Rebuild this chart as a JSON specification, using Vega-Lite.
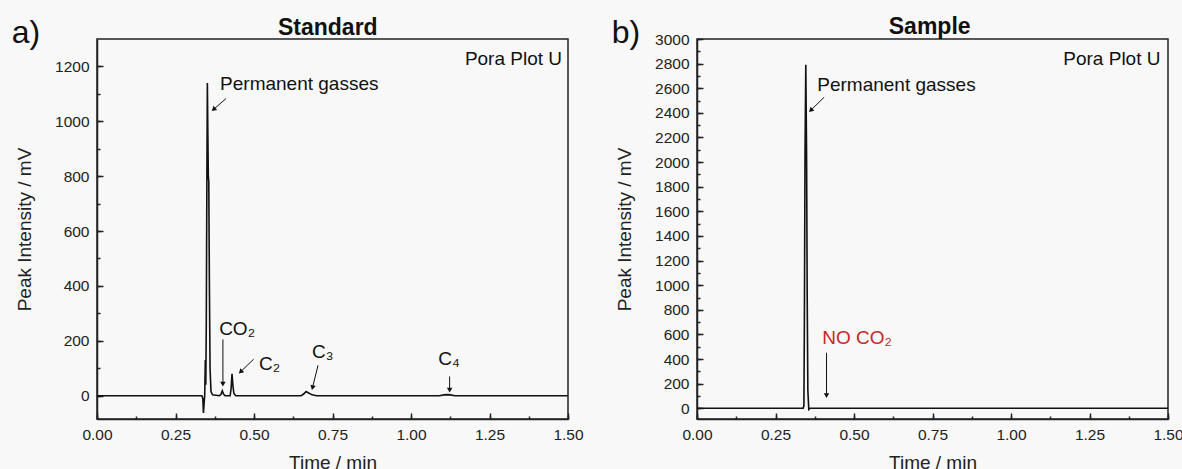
{
  "$schema": "https://vega.github.io/schema/vega-lite/v6.json",
  "background": "#f8f8f8",
  "padding": {"left": 11, "top": 15, "right": 0, "bottom": 0},
  "bounds": "flush",
  "spacing": 129,
  "datasets": {
    "std": [
      {"t": 0, "v": 0}, {"t": 0.334, "v": 0}, {"t": 0.337, "v": -10}, {"t": 0.339, "v": -63}, {"t": 0.341, "v": -30},
      {"t": 0.343, "v": 0}, {"t": 0.345, "v": 130}, {"t": 0.3465, "v": 40}, {"t": 0.348, "v": 250}, {"t": 0.35, "v": 800},
      {"t": 0.3515, "v": 1140}, {"t": 0.353, "v": 960}, {"t": 0.3545, "v": 800}, {"t": 0.356, "v": 780}, {"t": 0.358, "v": 400},
      {"t": 0.36, "v": 100}, {"t": 0.363, "v": 15}, {"t": 0.368, "v": 3}, {"t": 0.39, "v": 0}, {"t": 0.395, "v": 5},
      {"t": 0.399, "v": 18}, {"t": 0.403, "v": 6}, {"t": 0.408, "v": 0}, {"t": 0.424, "v": 0}, {"t": 0.427, "v": 25},
      {"t": 0.43, "v": 80}, {"t": 0.433, "v": 35}, {"t": 0.436, "v": 8}, {"t": 0.442, "v": 0}, {"t": 0.65, "v": 0},
      {"t": 0.658, "v": 6}, {"t": 0.666, "v": 15}, {"t": 0.674, "v": 10}, {"t": 0.685, "v": 3}, {"t": 0.7, "v": 0},
      {"t": 1.09, "v": 0}, {"t": 1.105, "v": 3}, {"t": 1.115, "v": 4}, {"t": 1.125, "v": 3}, {"t": 1.14, "v": 0}, {"t": 1.5, "v": 0}
    ],
    "smp": [
      {"t": 0, "v": 0}, {"t": 0.338, "v": 0}, {"t": 0.3405, "v": 20}, {"t": 0.342, "v": 700}, {"t": 0.344, "v": 2050},
      {"t": 0.3465, "v": 2790}, {"t": 0.349, "v": 2060}, {"t": 0.351, "v": 900}, {"t": 0.353, "v": 150}, {"t": 0.356, "v": -10},
      {"t": 0.36, "v": 0}, {"t": 1.5, "v": 0}
    ],
    "arrowsA": [
      {"t1": 0.411, "v1": 1083, "t2": 0.373, "v2": 1045, "heading": 229},
      {"t1": 0.401, "v1": 205, "t2": 0.401, "v2": 45, "heading": 180},
      {"t1": 0.499, "v1": 133, "t2": 0.459, "v2": 89, "heading": 226},
      {"t1": 0.704, "v1": 111, "t2": 0.687, "v2": 32, "heading": 195},
      {"t1": 1.123, "v1": 70, "t2": 1.123, "v2": 23, "heading": 180}
    ],
    "arrowsB": [
      {"t1": 0.405, "v1": 2527, "t2": 0.364, "v2": 2425, "heading": 226},
      {"t1": 0.4125, "v1": 451, "t2": 0.4125, "v2": 110, "heading": 180}
    ],
    "notesA": [
      {"label": "Permanent gasses", "t": 0.392, "v": 1113},
      {"label": "CO₂", "t": 0.389, "v": 222},
      {"label": "C₂", "t": 0.516, "v": 95},
      {"label": "C₃", "t": 0.685, "v": 137},
      {"label": "C₄", "t": 1.087, "v": 113}
    ]
  },
  "config": {
    "font": "Liberation Sans",
    "view": {"stroke": "#222", "strokeWidth": 1.5},
    "axis": {
      "labelFont": "Liberation Sans", "labelFontSize": 15.5, "labelColor": "#222",
      "titleFont": "Liberation Sans", "titleFontSize": 19, "titleFontWeight": "normal", "titleColor": "#222",
      "domainColor": "#222", "domainWidth": 1.5, "grid": false
    },
    "text": {"font": "Liberation Sans", "color": "#111"}
  },
  "hconcat": [
    {
      "width": 471, "height": 380,
      "resolve": {"axis": {"x": "independent", "y": "independent"}},
      "layer": [
        {
          "data": {"name": "std"},
          "mark": {"type": "line", "color": "#111", "strokeWidth": 1.6},
          "encoding": {
            "x": {"field": "t", "type": "quantitative", "scale": {"domain": [0, 1.5], "nice": false},
              "axis": {"values": [0, 0.125, 0.25, 0.375, 0.5, 0.625, 0.75, 0.875, 1, 1.125, 1.25, 1.375, 1.5], "format": ".2f", "labelExpr": "datum.value % 0.25 == 0 ? datum.label : ''", "title": "Time / min", "ticks": true, "tickSize": -3, "tickWidth": 1.5, "tickColor": "#222", "labelPadding": 11, "labelFlush": false, "labelOverlap": false, "titlePadding": 11}},
            "y": {"field": "v", "type": "quantitative", "scale": {"domain": [-85, 1300], "nice": false, "zero": false},
              "axis": {"values": [0, 100, 200, 300, 400, 500, 600, 700, 800, 900, 1000, 1100, 1200], "format": "d", "labelExpr": "datum.value % 200 == 0 ? datum.label : ''", "title": "Peak Intensity / mV", "ticks": true, "tickSize": -3, "tickWidth": 1.5, "tickColor": "#222", "labelPadding": 11, "labelFlush": false, "labelOverlap": false, "titlePadding": 20}}
          }
        },
        {
          "data": {"name": "arrowsA"},
          "mark": {"type": "rule", "color": "#111", "strokeWidth": 1},
          "encoding": {
            "x": {"field": "t1", "type": "quantitative", "axis": {"values": [0, 0.25, 0.5, 0.75, 1, 1.25, 1.5], "orient": "top", "offset": -380, "ticks": true, "tickSize": 6, "tickWidth": 1.5, "tickColor": "#222", "labels": false, "domain": false, "title": null}},
            "y": {"field": "v1", "type": "quantitative", "axis": {"values": [0, 200, 400, 600, 800, 1000, 1200], "orient": "right", "offset": -471, "ticks": true, "tickSize": 6, "tickWidth": 1.5, "tickColor": "#222", "labels": false, "domain": false, "title": null}},
            "x2": {"field": "t2"},
            "y2": {"field": "v2"}
          }
        },
        {
          "data": {"name": "arrowsA"},
          "mark": {"type": "point", "shape": "triangle", "filled": true, "color": "#111", "size": 30, "opacity": 1},
          "encoding": {
            "x": {"field": "t2", "type": "quantitative", "axis": null},
            "y": {"field": "v2", "type": "quantitative", "axis": null},
            "angle": {"field": "heading", "type": "quantitative", "scale": null}
          }
        },
        {
          "data": {"name": "notesA"},
          "mark": {"type": "text", "align": "left", "baseline": "alphabetic", "fontSize": 19},
          "encoding": {
            "x": {"field": "t", "type": "quantitative", "axis": null},
            "y": {"field": "v", "type": "quantitative", "axis": null},
            "text": {"field": "label"}
          }
        },
        {
          "data": {"values": [{"label": "Pora Plot U", "t": 1.481, "v": 1206}]},
          "mark": {"type": "text", "align": "right", "baseline": "alphabetic", "fontSize": 19},
          "encoding": {
            "x": {"field": "t", "type": "quantitative", "axis": null},
            "y": {"field": "v", "type": "quantitative", "axis": null},
            "text": {"field": "label"}
          }
        },
        {
          "data": {"values": [{"label": "Standard", "t": 0.735, "v": 1316}]},
          "mark": {"type": "text", "align": "center", "baseline": "alphabetic", "fontSize": 23, "fontWeight": "bold"},
          "encoding": {
            "x": {"field": "t", "type": "quantitative", "axis": null},
            "y": {"field": "v", "type": "quantitative", "axis": null},
            "text": {"field": "label"}
          }
        },
        {
          "data": {"values": [{"label": "a)", "t": -0.226, "v": 1284}]},
          "mark": {"type": "text", "align": "center", "baseline": "alphabetic", "fontSize": 32},
          "encoding": {
            "x": {"field": "t", "type": "quantitative", "axis": null},
            "y": {"field": "v", "type": "quantitative", "axis": null},
            "text": {"field": "label"}
          }
        }
      ]
    },
    {
      "width": 471, "height": 380,
      "resolve": {"axis": {"x": "independent", "y": "independent"}},
      "layer": [
        {
          "data": {"name": "smp"},
          "mark": {"type": "line", "color": "#111", "strokeWidth": 1.6},
          "encoding": {
            "x": {"field": "t", "type": "quantitative", "scale": {"domain": [0, 1.5], "nice": false},
              "axis": {"values": [0, 0.125, 0.25, 0.375, 0.5, 0.625, 0.75, 0.875, 1, 1.125, 1.25, 1.375, 1.5], "format": ".2f", "labelExpr": "datum.value % 0.25 == 0 ? datum.label : ''", "title": "Time / min", "ticks": true, "tickSize": -3, "tickWidth": 1.5, "tickColor": "#222", "labelPadding": 11, "labelFlush": false, "labelOverlap": false, "titlePadding": 11}},
            "y": {"field": "v", "type": "quantitative", "scale": {"domain": [-87, 3000], "nice": false, "zero": false},
              "axis": {"values": [0, 100, 200, 300, 400, 500, 600, 700, 800, 900, 1000, 1100, 1200, 1300, 1400, 1500, 1600, 1700, 1800, 1900, 2000, 2100, 2200, 2300, 2400, 2500, 2600, 2700, 2800, 2900, 3000], "format": "d", "labelExpr": "datum.value % 200 == 0 ? datum.label : ''", "title": "Peak Intensity / mV", "ticks": true, "tickSize": -3, "tickWidth": 1.5, "tickColor": "#222", "labelPadding": 11, "labelFlush": false, "labelOverlap": false, "titlePadding": 20}}
          }
        },
        {
          "data": {"name": "arrowsB"},
          "mark": {"type": "rule", "color": "#111", "strokeWidth": 1},
          "encoding": {
            "x": {"field": "t1", "type": "quantitative", "axis": {"values": [0, 0.25, 0.5, 0.75, 1, 1.25, 1.5], "orient": "top", "offset": -380, "ticks": true, "tickSize": 6, "tickWidth": 1.5, "tickColor": "#222", "labels": false, "domain": false, "title": null}},
            "y": {"field": "v1", "type": "quantitative", "axis": {"values": [0, 200, 400, 600, 800, 1000, 1200, 1400, 1600, 1800, 2000, 2200, 2400, 2600, 2800, 3000], "orient": "right", "offset": -471, "ticks": true, "tickSize": 6, "tickWidth": 1.5, "tickColor": "#222", "labels": false, "domain": false, "title": null}},
            "x2": {"field": "t2"},
            "y2": {"field": "v2"}
          }
        },
        {
          "data": {"name": "arrowsB"},
          "mark": {"type": "point", "shape": "triangle", "filled": true, "color": "#111", "size": 30, "opacity": 1},
          "encoding": {
            "x": {"field": "t2", "type": "quantitative", "axis": null},
            "y": {"field": "v2", "type": "quantitative", "axis": null},
            "angle": {"field": "heading", "type": "quantitative", "scale": null}
          }
        },
        {
          "data": {"values": [{"label": "Permanent gasses", "t": 0.383, "v": 2581}]},
          "mark": {"type": "text", "align": "left", "baseline": "alphabetic", "fontSize": 19},
          "encoding": {
            "x": {"field": "t", "type": "quantitative", "axis": null},
            "y": {"field": "v", "type": "quantitative", "axis": null},
            "text": {"field": "label"}
          }
        },
        {
          "data": {"values": [{"label": "NO CO₂", "t": 0.399, "v": 524}]},
          "mark": {"type": "text", "align": "left", "baseline": "alphabetic", "fontSize": 19, "color": "#c62828"},
          "encoding": {
            "x": {"field": "t", "type": "quantitative", "axis": null},
            "y": {"field": "v", "type": "quantitative", "axis": null},
            "text": {"field": "label"}
          }
        },
        {
          "data": {"values": [{"label": "Pora Plot U", "t": 1.476, "v": 2792}]},
          "mark": {"type": "text", "align": "right", "baseline": "alphabetic", "fontSize": 19},
          "encoding": {
            "x": {"field": "t", "type": "quantitative", "axis": null},
            "y": {"field": "v", "type": "quantitative", "axis": null},
            "text": {"field": "label"}
          }
        },
        {
          "data": {"values": [{"label": "Sample", "t": 0.741, "v": 3042}]},
          "mark": {"type": "text", "align": "center", "baseline": "alphabetic", "fontSize": 23, "fontWeight": "bold"},
          "encoding": {
            "x": {"field": "t", "type": "quantitative", "axis": null},
            "y": {"field": "v", "type": "quantitative", "axis": null},
            "text": {"field": "label"}
          }
        },
        {
          "data": {"values": [{"label": "b)", "t": -0.226, "v": 2965}]},
          "mark": {"type": "text", "align": "center", "baseline": "alphabetic", "fontSize": 32},
          "encoding": {
            "x": {"field": "t", "type": "quantitative", "axis": null},
            "y": {"field": "v", "type": "quantitative", "axis": null},
            "text": {"field": "label"}
          }
        }
      ]
    }
  ]
}
